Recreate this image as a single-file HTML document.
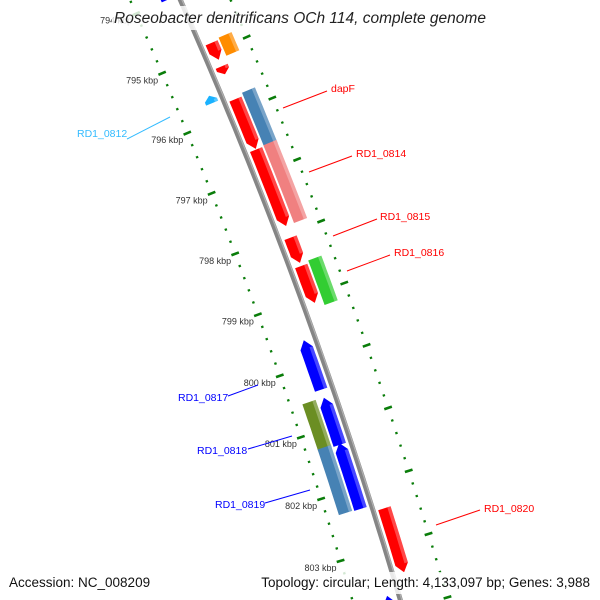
<!DOCTYPE html>
<html><head><meta charset="utf-8">
<style>
html,body{margin:0;padding:0;background:#fff;width:600px;height:600px;overflow:hidden;}
svg{display:block;font-family:"Liberation Sans",sans-serif;}
</style></head>
<body>
<svg id="map" width="600" height="600" viewBox="0 0 600 600" xmlns="http://www.w3.org/2000/svg">
<g id="ticks"></g>
<path id="backbone" fill="none" stroke="#858585" stroke-width="5"/>
<path id="backbone-hl" fill="none" stroke="#b0b0b0" stroke-width="1.2"/>
<g id="features"></g>
<g id="labels" font-size="10.5">
<line x1="283" y1="108" x2="327" y2="91" stroke="#f00"/>
<text x="331" y="92" fill="#f00">dapF</text>
<line x1="309" y1="172" x2="352" y2="156" stroke="#f00"/>
<text x="356" y="157" fill="#f00">RD1_0814</text>
<line x1="333" y1="236" x2="377" y2="219" stroke="#f00"/>
<text x="380" y="220" fill="#f00">RD1_0815</text>
<line x1="347" y1="271" x2="390" y2="255" stroke="#f00"/>
<text x="394" y="256" fill="#f00">RD1_0816</text>
<line x1="436" y1="525" x2="480" y2="510" stroke="#f00"/>
<text x="484" y="512" fill="#f00">RD1_0820</text>
<line x1="127" y1="139" x2="170" y2="117" stroke="#33bbff"/>
<text x="77" y="137" fill="#33bbff">RD1_0812</text>
<line x1="228" y1="396" x2="258" y2="385" stroke="#00f"/>
<text x="178" y="401" fill="#00f">RD1_0817</text>
<line x1="248" y1="449" x2="292" y2="436" stroke="#00f"/>
<text x="197" y="454" fill="#00f">RD1_0818</text>
<line x1="265" y1="503" x2="310" y2="490" stroke="#00f"/>
<text x="215" y="508" fill="#00f">RD1_0819</text>
</g>
<rect x="112" y="6" width="378" height="24" fill="rgba(255,255,255,0.82)"/>
<text x="300" y="23" text-anchor="middle" font-size="15.5" font-style="italic" fill="#222">Roseobacter denitrificans OCh 114, complete genome</text>
<rect x="4" y="572" width="145" height="22" fill="rgba(255,255,255,0.82)"/>
<rect x="255" y="572" width="341" height="22" fill="rgba(255,255,255,0.82)"/>
<text x="9" y="587" font-size="13.5" fill="#111">Accession: NC_008209</text>
<text x="590" y="587" text-anchor="end" font-size="13.5" fill="#111">Topology: circular; Length: 4,133,097 bp; Genes: 3,988</text>
</svg>
<script>
// feature data (kbp)
const featStart = [794.87, 795.26, 795.80, 796.63, 798.07, 798.53, 802.43, 794.84, 795.75, 796.61, 798.49, 799.61, 800.54, 801.27, 793.50, 803.72, 795.60, 800.53, 801.26];
const featEnd   = [795.15, 795.39, 796.62, 797.88, 798.48, 799.13, 803.45, 795.14, 796.66, 797.88, 799.21, 800.41, 801.30, 802.33, 794.00, 804.20, 795.72, 801.29, 802.32];
const featSlot  = [1, 1, 1, 1, 1, 1, 1, 2, 2, 2, 2, -1, -1, -1, -1, -1, -1, -2, -2];
const featDir   = [1, 1, 1, 1, 1, 1, 1, 0, 0, 0, 0, -1, -1, -1, -1, -1, -1, 0, 0];
const featColor = ["#ff0000","#ff0000","#ff0000","#ff0000","#ff0000","#ff0000","#ff0000","#ff8c00","#4682b4","#f08080","#32cd32","#0000ff","#0000ff","#0000ff","#0000ff","#0000ff","#1ab2ff","#6b8e23","#4682b4"];
const tickMajor = [794, 795, 796, 797, 798, 799, 800, 801, 802, 803, 804];
const tickLabels = ["794 kbp","795 kbp","796 kbp","797 kbp","798 kbp","799 kbp","800 kbp","801 kbp","802 kbp","803 kbp","804 kbp"];

const NS = "http://www.w3.org/2000/svg";
const CX = -4293, CY = 1980, R0 = 4892;
function theta(k){ return -0.391 + 0.0134*(k-796); }
function pt(k, dr){ const t = theta(k), r = R0+dr; return [CX + r*Math.cos(t), CY + r*Math.sin(t)]; }
function arc(k1, k2, dr, n){ const a=[]; for(let i=0;i<=n;i++){ a.push(pt(k1+(k2-k1)*i/n, dr)); } return a; }
const slotR = {"1":[5,18], "2":[20,34], "-1":[-18,-5], "-2":[-34,-20]};

let d = arc(793.5, 804.3, 0, 40).map((p,i)=>(i?"L":"M")+p[0].toFixed(1)+","+p[1].toFixed(1)).join("");
document.getElementById("backbone").setAttribute("d", d);
d = arc(793.5, 804.3, 1.5, 40).map((p,i)=>(i?"L":"M")+p[0].toFixed(1)+","+p[1].toFixed(1)).join("");
document.getElementById("backbone-hl").setAttribute("d", d);

const tg = document.getElementById("ticks");
for (let i = 0; i <= 54; i++) {
  const k = 793.4 + i*0.2;
  const major = Math.abs(k - Math.round(k)) < 0.01;
  [-46, 46].forEach(function(ring){
    const h = major ? 4 : 1.2;
    const a = pt(k, ring-h), b = pt(k, ring+h);
    if (a[1] > 600 && b[1] > 600) return;
    const ln = document.createElementNS(NS, "line");
    ln.setAttribute("x1", a[0]); ln.setAttribute("y1", a[1]);
    ln.setAttribute("x2", b[0]); ln.setAttribute("y2", b[1]);
    ln.setAttribute("stroke", "#0a7d0a");
    ln.setAttribute("stroke-width", major ? 2.6 : 2.2);
    
    
    tg.appendChild(ln);
  });
}
tickMajor.forEach(function(k, i){
  const p = pt(k, -46);
  if (p[1] > 595) return;
  const t = document.createElementNS(NS, "text");
  t.setAttribute("x", p[0]-4); t.setAttribute("y", p[1]+10);
  t.setAttribute("text-anchor", "end");
  t.setAttribute("font-size", "9");
  t.setAttribute("fill", "#333");
  t.textContent = tickLabels[i];
  
  
  tg.appendChild(t);
});

const fg = document.getElementById("features");
function poly(points, fill, name){
  const p = document.createElementNS(NS, "polygon");
  p.setAttribute("points", points.map(q=>q[0].toFixed(1)+","+q[1].toFixed(1)).join(" "));
  p.setAttribute("fill", fill);
  
  
  fg.appendChild(p);
}
for (let i = 0; i < featStart.length; i++) {
  const r = slotR[String(featSlot[i])];
  const r1 = r[0], r2 = r[1], rm = (r1+r2)/2;
  let k1 = featStart[i], k2 = featEnd[i];
  const head = Math.min(0.13, (k2-k1)*0.6);
  let pts;
  if (featDir[i] === 1) {
    pts = arc(k1, k2-head, r2, 6).concat([pt(k2, rm)]).concat(arc(k2-head, k1, r1, 6));
  } else if (featDir[i] === -1) {
    pts = [pt(k1, rm)].concat(arc(k1+head, k2, r2, 6)).concat(arc(k2, k1+head, r1, 6));
  } else {
    pts = arc(k1, k2, r2, 6).concat(arc(k2, k1, r1, 6));
  }
  poly(pts, featColor[i], 'feature-' + i);
  const hs = featDir[i] === -1 ? k1+head : k1;
  const he = featDir[i] === 1 ? k2-head : k2;
  const hl = arc(hs, he, r2, 6).concat(arc(he, hs, r2-3.5, 6));
  const h = document.createElementNS(NS, "polygon");
  h.setAttribute("points", hl.map(q=>q[0].toFixed(1)+","+q[1].toFixed(1)).join(" "));
  h.setAttribute("fill", "rgba(255,255,255,0.28)");
  
  
  fg.appendChild(h);
}
</script>
</body></html>
